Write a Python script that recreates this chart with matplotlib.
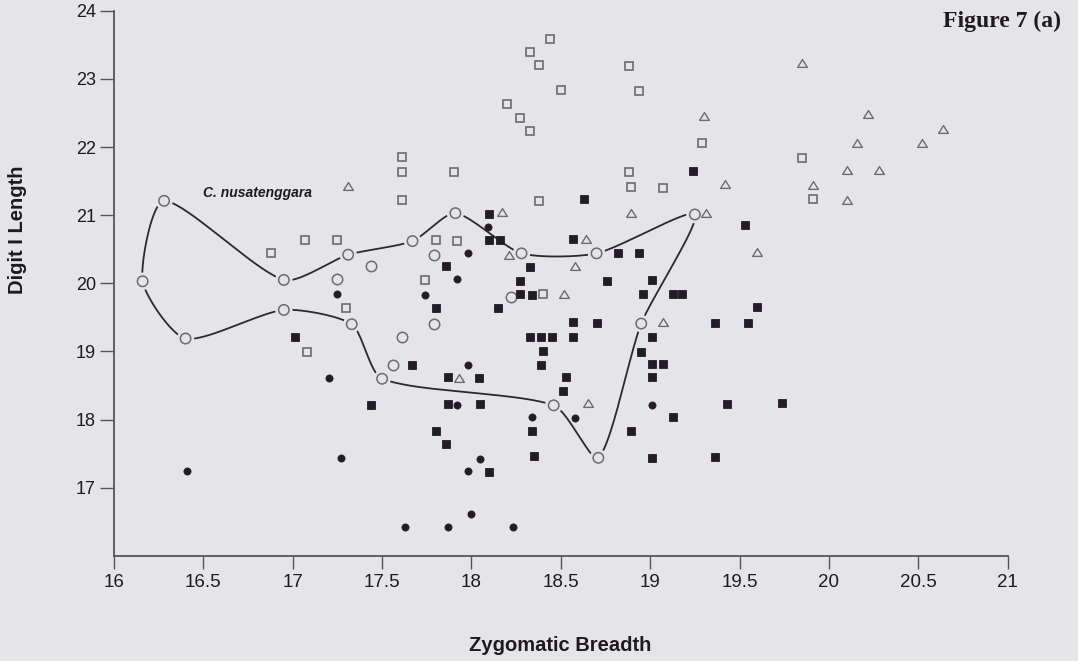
import numpy as np
import matplotlib
matplotlib.use("Agg")
import matplotlib.pyplot as plt
import matplotlib.patheffects as pe
from matplotlib.path import Path

# ---- data -------------------------------------------------------------
# C. nusatenggara outline vertices, in drawing order (closed loop)
nusa_x = [16.16, 16.28, 16.95, 17.31, 17.67, 17.91, 18.28, 18.70,
          19.25, 18.95, 18.71, 18.46, 17.50, 17.33, 16.95, 16.40]
nusa_y = [20.03, 21.21, 20.05, 20.42, 20.62, 21.03, 20.44, 20.44,
          21.01, 19.41, 17.44, 18.21, 18.60, 19.40, 19.61, 19.19]

# other open circles
circ_open_x = [17.44, 17.25, 17.79, 18.22, 17.79, 17.61, 17.56]
circ_open_y = [20.26, 20.06, 20.42, 19.80, 19.40, 19.21, 18.80]

# open squares
sq_open_x = [16.88, 17.07, 17.25, 17.30, 17.08, 17.61, 17.61, 17.61, 17.90,
             18.20, 18.27, 18.33, 18.33, 18.38, 18.44, 18.50, 18.88, 18.94,
             18.88, 18.89, 19.07, 18.38, 17.80, 17.92, 17.74, 18.40, 19.29,
             19.85, 19.91]
sq_open_y = [20.44, 20.64, 20.63, 19.64, 18.99, 21.85, 21.64, 21.22, 21.64,
             22.63, 22.42, 22.23, 23.39, 23.20, 23.59, 22.84, 23.19, 22.82,
             21.64, 21.42, 21.40, 21.21, 20.63, 20.62, 20.05, 19.84, 22.06,
             21.84, 21.24]

# open triangles
tri_x = [17.31, 18.17, 18.21, 18.64, 18.58, 18.89, 18.52, 19.07, 17.93,
         18.65, 19.31, 19.60, 19.42, 19.91, 20.10, 20.10, 20.28, 20.16,
         20.22, 19.85, 19.30, 20.52, 20.64]
tri_y = [21.43, 21.04, 20.42, 20.65, 20.26, 21.03, 19.85, 19.43, 18.61,
         18.24, 21.03, 20.46, 21.46, 21.45, 21.22, 21.66, 21.66, 22.06,
         22.48, 23.24, 22.46, 22.06, 22.26]

# filled squares
sq_fill_x = [17.01, 17.44, 18.10, 18.10, 18.16, 18.63, 18.57, 18.82, 18.94,
             17.86, 18.33, 18.27, 18.76, 19.01, 18.27, 18.34, 18.96, 19.13,
             19.18, 19.53, 17.80, 18.15, 18.57, 18.70, 19.60, 19.36, 19.55,
             18.33, 18.39, 18.45, 18.57, 19.01, 18.40, 18.95, 17.67, 18.39,
             19.01, 19.07, 17.87, 18.04, 18.53, 19.01, 18.51, 17.87, 18.05,
             19.13, 19.43, 19.74, 17.80, 18.34, 18.89, 17.86, 18.35, 19.01,
             19.36, 18.10, 19.24]
sq_fill_y = [19.21, 18.22, 21.02, 20.63, 20.63, 21.24, 20.65, 20.45, 20.44,
             20.25, 20.24, 20.04, 20.04, 20.05, 19.84, 19.83, 19.85, 19.85,
             19.85, 20.85, 19.64, 19.64, 19.43, 19.42, 19.66, 19.42, 19.42,
             19.21, 19.21, 19.21, 19.21, 19.21, 19.01, 18.99, 18.80, 18.80,
             18.81, 18.81, 18.62, 18.61, 18.62, 18.62, 18.42, 18.23, 18.23,
             18.04, 18.23, 18.24, 17.83, 17.83, 17.84, 17.64, 17.46, 17.44,
             17.45, 17.23, 21.65]

# filled circles
circ_fill_x = [17.25, 17.20, 17.27, 16.41, 18.09, 17.98, 17.92, 17.74, 17.98,
               17.92, 19.01, 18.34, 18.58, 18.05, 17.98, 18.00, 17.63, 17.87,
               18.23]
circ_fill_y = [19.84, 18.61, 17.44, 17.24, 20.82, 20.44, 20.06, 19.83, 18.80,
               18.22, 18.22, 18.04, 18.03, 17.43, 17.25, 16.62, 16.42, 16.42,
               16.42]

x_ticks = [16, 16.5, 17, 17.5, 18, 18.5, 19, 19.5, 20, 20.5, 21]
x_tick_labels = ["16", "16.5", "17", "17.5", "18", "18.5", "19", "19.5",
                 "20", "20.5", "21"]
y_ticks = [17, 18, 19, 20, 21, 22, 23, 24]
y_tick_labels = ["17", "18", "19", "20", "21", "22", "23", "24"]

# ---- style ------------------------------------------------------------
BG = "#e5e5e9"
DARK = "#231c26"
GREY = "#6c6a72"
AXIS = "#57525c"
TEXT = "#1e1a20"

fig = plt.figure(figsize=(10.78, 6.61), dpi=100, facecolor=BG)
ax = fig.add_axes([0.1058, 0.1589, 0.8289, 0.8249])
ax.set_facecolor(BG)
ax.set_xlim(16, 21)
ax.set_ylim(16, 24)

for side in ("top", "right"):
    ax.spines[side].set_visible(False)
for side in ("left", "bottom"):
    ax.spines[side].set_color(AXIS)
    ax.spines[side].set_linewidth(1.3)

ax.set_xticks(x_ticks)
ax.set_xticklabels(x_tick_labels, fontsize=13.5, family="Liberation Sans",
                   color=TEXT)
ax.set_yticks(y_ticks)
ax.set_yticklabels(y_tick_labels, fontsize=13, family="Liberation Sans",
                   color=TEXT)
ax.tick_params(axis="x", direction="out", length=9, width=1.0,
               color=AXIS, pad=4)
ax.tick_params(axis="y", direction="out", length=10, width=1.0,
               color=AXIS, pad=3)


def closed_cardinal(pts, tension=0.3, n=40):
    """Closed cardinal spline with chord-length weighted tangents."""
    m = len(pts)
    out = []
    for i in range(m):
        p0, p1, p2, p3 = (pts[(i - 1) % m], pts[i],
                          pts[(i + 1) % m], pts[(i + 2) % m])
        d0 = np.linalg.norm(p1 - p0)
        d1 = np.linalg.norm(p2 - p1)
        d2 = np.linalg.norm(p3 - p2)
        k = 1.0 - tension
        m1 = k * (p2 - p0) * d1 / (d0 + d1)
        m2 = k * (p3 - p1) * d1 / (d1 + d2)
        t = np.linspace(0, 1, n)[:, None]
        h00 = 2 * t**3 - 3 * t**2 + 1
        h10 = t**3 - 2 * t**2 + t
        h01 = -2 * t**3 + 3 * t**2
        h11 = t**3 - t**2
        out.append(h00 * p1 + h10 * m1 + h01 * p2 + h11 * m2)
    out = np.vstack(out)
    return np.vstack([out, out[:1]])


# smooth outline computed in display space so both axes weigh equally
disp = ax.transData.transform(np.column_stack([nusa_x, nusa_y]))
curve = ax.transData.inverted().transform(closed_cardinal(disp))
ax.plot(curve[:, 0], curve[:, 1], color="#2a2a2c", lw=1.3, zorder=2)

halo = [pe.withStroke(linewidth=5, foreground=BG)]
ax.plot(nusa_x, nusa_y, ls="none", marker="o", ms=7.5, mfc=BG, mec=GREY,
        mew=1.1, zorder=3, path_effects=halo)
ax.plot(circ_open_x, circ_open_y, ls="none", marker="o", ms=7.5, mfc=BG,
        mec=GREY, mew=1.1, zorder=3)

tri_marker = Path([(0, 0.8), (-1, -0.8), (1, -0.8), (0, 0.8)],
                  [Path.MOVETO, Path.LINETO, Path.LINETO, Path.CLOSEPOLY])
ax.plot(tri_x, tri_y, ls="none", marker=tri_marker, ms=7, mfc="none",
        mec=GREY, mew=1.0, zorder=4)
ax.plot(sq_open_x, sq_open_y, ls="none", marker="s", ms=5.8, mfc="none",
        mec=GREY, mew=1.2, zorder=4)
ax.plot(sq_fill_x, sq_fill_y, ls="none", marker="s", ms=5.6, mfc=DARK,
        mec=DARK, mew=0.6, zorder=5)
ax.plot(circ_fill_x, circ_fill_y, ls="none", marker="o", ms=5.2, mfc=DARK,
        mec=DARK, mew=0.5, zorder=5)

ax.text(16.80, 21.33, "C. nusatenggara", fontsize=10, style="italic",
        weight="bold", family="Liberation Sans", color=TEXT,
        ha="center", va="center")

fig.text(0.5195, 0.0242, "Zygomatic Breadth", fontsize=14.5, weight="bold",
         family="Liberation Sans", color=TEXT, ha="center", va="center")
fig.text(0.0165, 0.652, "Digit I Length", fontsize=14.5, weight="bold",
         family="Liberation Sans", color=TEXT, ha="center", va="center",
         rotation=90)
fig.text(0.984, 0.968, "Figure 7 (a)", fontsize=17, weight="bold",
         family="Liberation Serif", color=TEXT, ha="right", va="center")

fig.savefig("out.png", dpi=100, facecolor=BG)
